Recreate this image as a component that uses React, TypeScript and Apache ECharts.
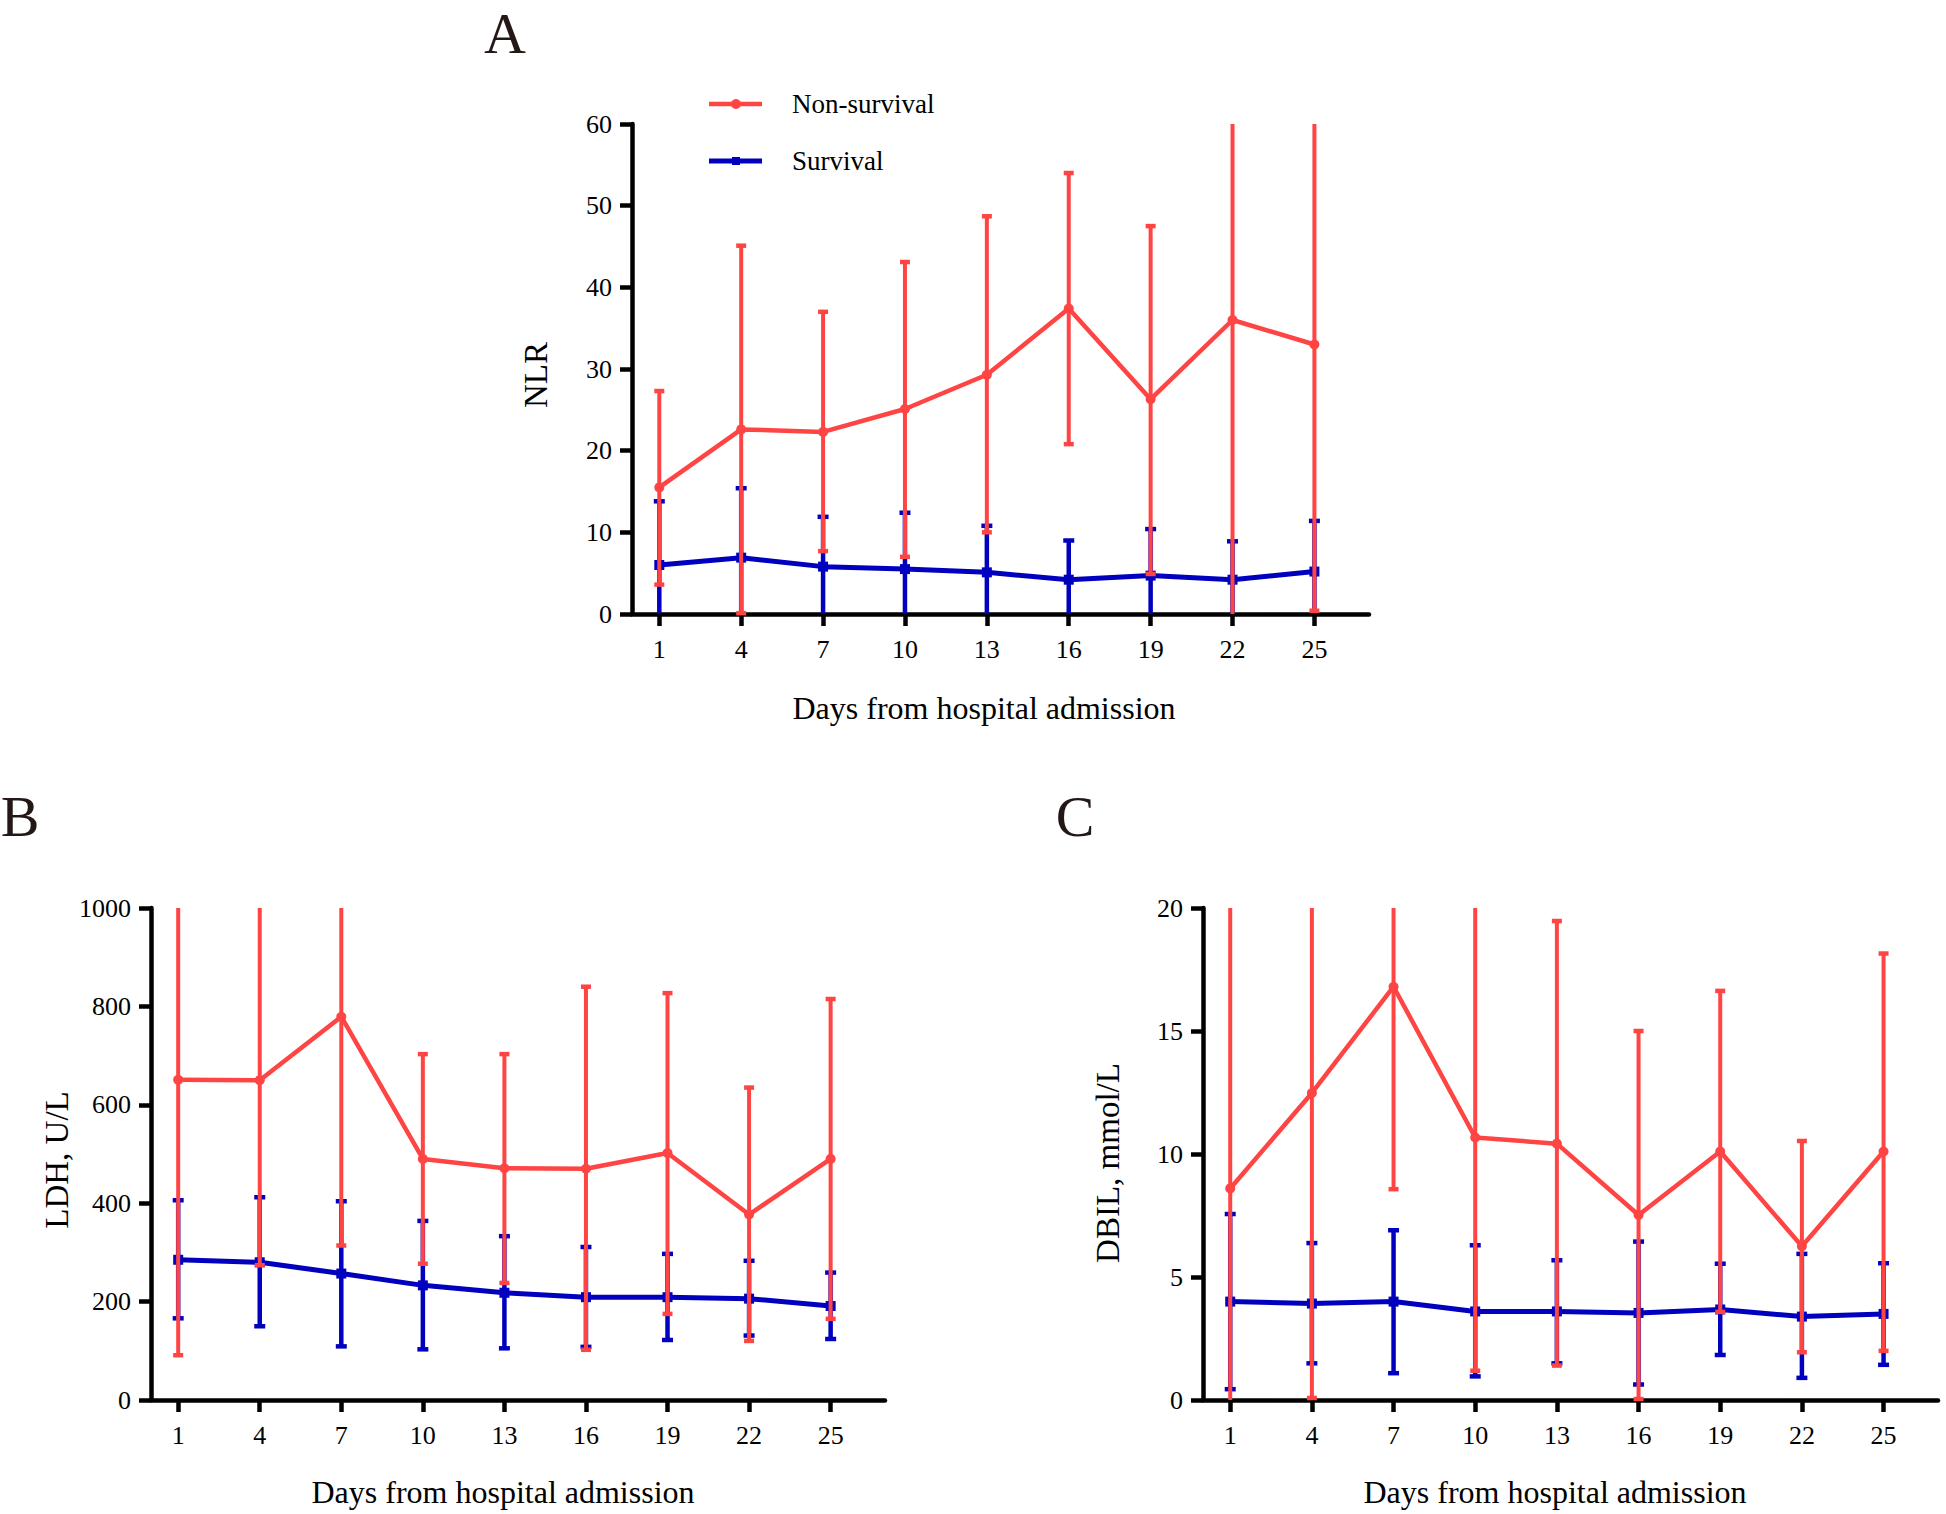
import React, { useEffect, useRef } from "react";
import * as echarts from "echarts";

// ---------------- data ----------------
const days = [1, 4, 7, 10, 13, 16, 19, 22, 25];
const xTickValues = [1, 4, 7, 10, 13, 16, 19, 22, 25];

// Panel A: NLR
const nlrNonMean = [15.5, 22.6, 22.3, 25.1, 29.3, 37.4, 26.3, 36.0, 33.0];
const nlrNonLow = [3.6, 0.1, 7.7, 7.0, 10.0, 20.8, 4.9, -3.0, 0.4];
const nlrNonHigh = [27.3, 45.1, 37.0, 43.1, 48.7, 54.0, 47.5, 75.0, 65.6];
const nlrSurMean = [6.0, 6.9, 5.8, 5.5, 5.1, 4.2, 4.7, 4.2, 5.2];
const nlrSurLow = [-1.8, -1.6, -0.3, -1.4, -0.6, -0.6, -1.0, -0.5, -1.0];
const nlrSurHigh = [13.8, 15.4, 11.9, 12.4, 10.8, 9.0, 10.4, 8.9, 11.4];

// Panel B: LDH, U/L
const ldhNonMean = [651, 650, 779, 490, 471, 470, 502, 377, 490];
const ldhNonLow = [91, 274, 314, 277, 238, 102, 175, 120, 165];
const ldhNonHigh = [1211, 1026, 1244, 703, 703, 840, 827, 635, 815];
const ldhSurMean = [285, 280, 257, 233, 218, 209, 209, 206, 191];
const ldhSurLow = [166, 150, 109, 103, 105, 108, 122, 131, 124];
const ldhSurHigh = [406, 412, 404, 364, 333, 311, 297, 283, 259];

// Panel C: DBIL, mmol/L
const dbilNonMean = [8.6, 12.48, 16.8, 10.67, 10.42, 7.52, 10.1, 6.25, 10.1];
const dbilNonLow = [-3.5, 0.08, 8.57, 1.19, 1.4, 0.04, 3.58, 1.94, 2.0];
const dbilNonHigh = [20.7, 24.9, 25.0, 20.16, 19.47, 15.0, 16.63, 10.53, 18.15];
const dbilSurMean = [4.0, 3.92, 4.0, 3.6, 3.6, 3.54, 3.68, 3.39, 3.5];
const dbilSurLow = [0.44, 1.49, 1.09, 0.96, 1.49, 0.63, 1.83, 0.9, 1.43];
const dbilSurHigh = [7.56, 6.38, 6.9, 6.29, 5.68, 6.44, 5.54, 5.94, 5.56];

const seriesNames = ["Non-survival", "Survival"];
const panelLetters = ["A", "B", "C"];
const yTitles = ["NLR", "LDH, U/L", "DBIL, mmol/L"];
const xTitle = "Days from hospital admission";
const yMax = [60, 1000, 20];
const yInterval = [10, 200, 5];

// ---------------- styling ----------------
const RED = "#FF4444";
const BLUE = "#0000BE";
const FONT = '"Liberation Serif", "Times New Roman", serif';
const LETTER = "#231815";

const grids = [
  { left: 632, top: 124, width: 737, height: 490 },
  { left: 151, top: 908, width: 734, height: 492 },
  { left: 1203, top: 908, width: 735, height: 492 },
];

function errorBarRenderer(color: string, lineW: number, capW: number, capH: number) {
  return (params: any, api: any) => {
    const x = api.value(0);
    const lo = api.value(1);
    const hi = api.value(2);
    const cs = params.coordSys;
    const pLo = api.coord([x, lo]);
    const pHi = api.coord([x, hi]);
    const top = cs.y;
    const bottom = cs.y + cs.height;
    const yTop = Math.max(pHi[1], top);
    const yBot = Math.min(pLo[1], bottom);
    const cx = pLo[0];
    const children: any[] = [
      {
        type: "line",
        shape: { x1: cx, y1: yBot, x2: cx, y2: yTop },
        style: { stroke: color, lineWidth: lineW },
      },
    ];
    if (pHi[1] >= top - 0.5) {
      children.push({
        type: "rect",
        shape: { x: cx - capW / 2, y: pHi[1] - capH / 2, width: capW, height: capH },
        style: { fill: color },
      });
    }
    if (pLo[1] <= bottom + 0.5) {
      children.push({
        type: "rect",
        shape: { x: cx - capW / 2, y: pLo[1] - capH / 2, width: capW, height: capH },
        style: { fill: color },
      });
    }
    return { type: "group", children };
  };
}

const panels = [
  { nonMean: nlrNonMean, nonLow: nlrNonLow, nonHigh: nlrNonHigh, surMean: nlrSurMean, surLow: nlrSurLow, surHigh: nlrSurHigh },
  { nonMean: ldhNonMean, nonLow: ldhNonLow, nonHigh: ldhNonHigh, surMean: ldhSurMean, surLow: ldhSurLow, surHigh: ldhSurHigh },
  { nonMean: dbilNonMean, nonLow: dbilNonLow, nonHigh: dbilNonHigh, surMean: dbilSurMean, surLow: dbilSurLow, surHigh: dbilSurHigh },
];

function buildOption() {
  const axisLine = { show: true, lineStyle: { color: "#000", width: 4.5 } };
  const axisTick = { show: true, length: 12, lineStyle: { color: "#000", width: 4.5 } };
  const xAxis = grids.map((_, i) => ({
    type: "value",
    gridIndex: i,
    min: 0,
    max: 27,
    axisLine: { ...axisLine, onZero: false },
    axisTick: { ...axisTick, customValues: xTickValues },
    axisLabel: {
      customValues: xTickValues,
      margin: 22,
      color: "#000",
      fontFamily: FONT,
      fontSize: 26,
    },
    splitLine: { show: false },
  }));
  const yAxis = grids.map((_, i) => ({
    type: "value",
    gridIndex: i,
    min: 0,
    max: yMax[i],
    interval: yInterval[i],
    axisLine: axisLine,
    axisTick: axisTick,
    axisLabel: {
      margin: 20,
      color: "#000",
      fontFamily: FONT,
      fontSize: 26,
      formatter: (v: number) => String(v),
    },
    splitLine: { show: false },
  }));

  const series: any[] = [];
  panels.forEach((p, i) => {
    series.push({
      type: "custom",
      name: seriesNames[1] + " SD",
      xAxisIndex: i,
      yAxisIndex: i,
      z: 2,
      clip: false,
      renderItem: errorBarRenderer(BLUE, 4.5, 11, 4.5),
      encode: { x: 0, y: [1, 2] },
      data: days.map((d, k) => [d, p.surLow[k], p.surHigh[k]]),
    });
    series.push({
      type: "line",
      name: seriesNames[1],
      xAxisIndex: i,
      yAxisIndex: i,
      z: 3,
      symbol: "rect",
      symbolSize: 10,
      itemStyle: { color: BLUE },
      lineStyle: { color: BLUE, width: 5 },
      data: days.map((d, k) => [d, p.surMean[k]]),
    });
    series.push({
      type: "custom",
      name: seriesNames[0] + " SD",
      xAxisIndex: i,
      yAxisIndex: i,
      z: 4,
      clip: false,
      renderItem: errorBarRenderer(RED, 4, 10, 4.5),
      encode: { x: 0, y: [1, 2] },
      data: days.map((d, k) => [d, p.nonLow[k], p.nonHigh[k]]),
    });
    series.push({
      type: "line",
      name: seriesNames[0],
      xAxisIndex: i,
      yAxisIndex: i,
      z: 5,
      symbol: "circle",
      symbolSize: 10,
      itemStyle: { color: RED },
      lineStyle: { color: RED, width: 4.5 },
      data: days.map((d, k) => [d, p.nonMean[k]]),
    });
  });

  const textStyle = (size: number, color = "#000") => ({
    font: `${size}px ${FONT}`,
    fill: color,
    textAlign: "center",
    textVerticalAlign: "middle",
  });

  const graphic: any[] = [
    // panel letters
    { type: "text", x: 505, y: 33, style: { text: panelLetters[0], ...textStyle(58, LETTER) } },
    { type: "text", x: 20, y: 816, style: { text: panelLetters[1], ...textStyle(58, LETTER) } },
    { type: "text", x: 1075, y: 816, style: { text: panelLetters[2], ...textStyle(58, LETTER) } },
    // y titles
    { type: "text", x: 536, y: 375, rotation: Math.PI / 2, style: { text: yTitles[0], ...textStyle(33) } },
    { type: "text", x: 57, y: 1160, rotation: Math.PI / 2, style: { text: yTitles[1], ...textStyle(33) } },
    { type: "text", x: 1108, y: 1163, rotation: Math.PI / 2, style: { text: yTitles[2], ...textStyle(33) } },
    // x titles
    { type: "text", x: 984, y: 708, style: { text: xTitle, ...textStyle(32) } },
    { type: "text", x: 503, y: 1492, style: { text: xTitle, ...textStyle(32) } },
    { type: "text", x: 1555, y: 1492, style: { text: xTitle, ...textStyle(32) } },
    // legend
    { type: "line", shape: { x1: 709, y1: 104, x2: 762, y2: 104 }, style: { stroke: RED, lineWidth: 4.5 } },
    { type: "circle", shape: { cx: 736, cy: 104, r: 5 }, style: { fill: RED } },
    {
      type: "text",
      x: 792,
      y: 104,
      style: { text: seriesNames[0], font: `27px ${FONT}`, fill: "#000", textAlign: "left", textVerticalAlign: "middle" },
    },
    { type: "line", shape: { x1: 709, y1: 161, x2: 762, y2: 161 }, style: { stroke: BLUE, lineWidth: 5 } },
    { type: "rect", shape: { x: 732, y: 157, width: 8, height: 8 }, style: { fill: BLUE } },
    {
      type: "text",
      x: 792,
      y: 161,
      style: { text: seriesNames[1], font: `27px ${FONT}`, fill: "#000", textAlign: "left", textVerticalAlign: "middle" },
    },
  ];

  return {
    animation: false,
    backgroundColor: "#fff",
    grid: grids.map((g) => ({ ...g, containLabel: false })),
    xAxis,
    yAxis,
    series,
    graphic,
  };
}

export default function App() {
  const ref = useRef<HTMLDivElement>(null);
  useEffect(() => {
    if (!ref.current) return;
    const chart = echarts.init(ref.current, undefined, { renderer: "svg" });
    chart.setOption(buildOption() as any);
    return () => chart.dispose();
  }, []);
  return (
    <div
      ref={ref}
      style={{ position: "absolute", left: 0, top: 0, width: 1946, height: 1514, background: "#fff" }}
    />
  );
}
